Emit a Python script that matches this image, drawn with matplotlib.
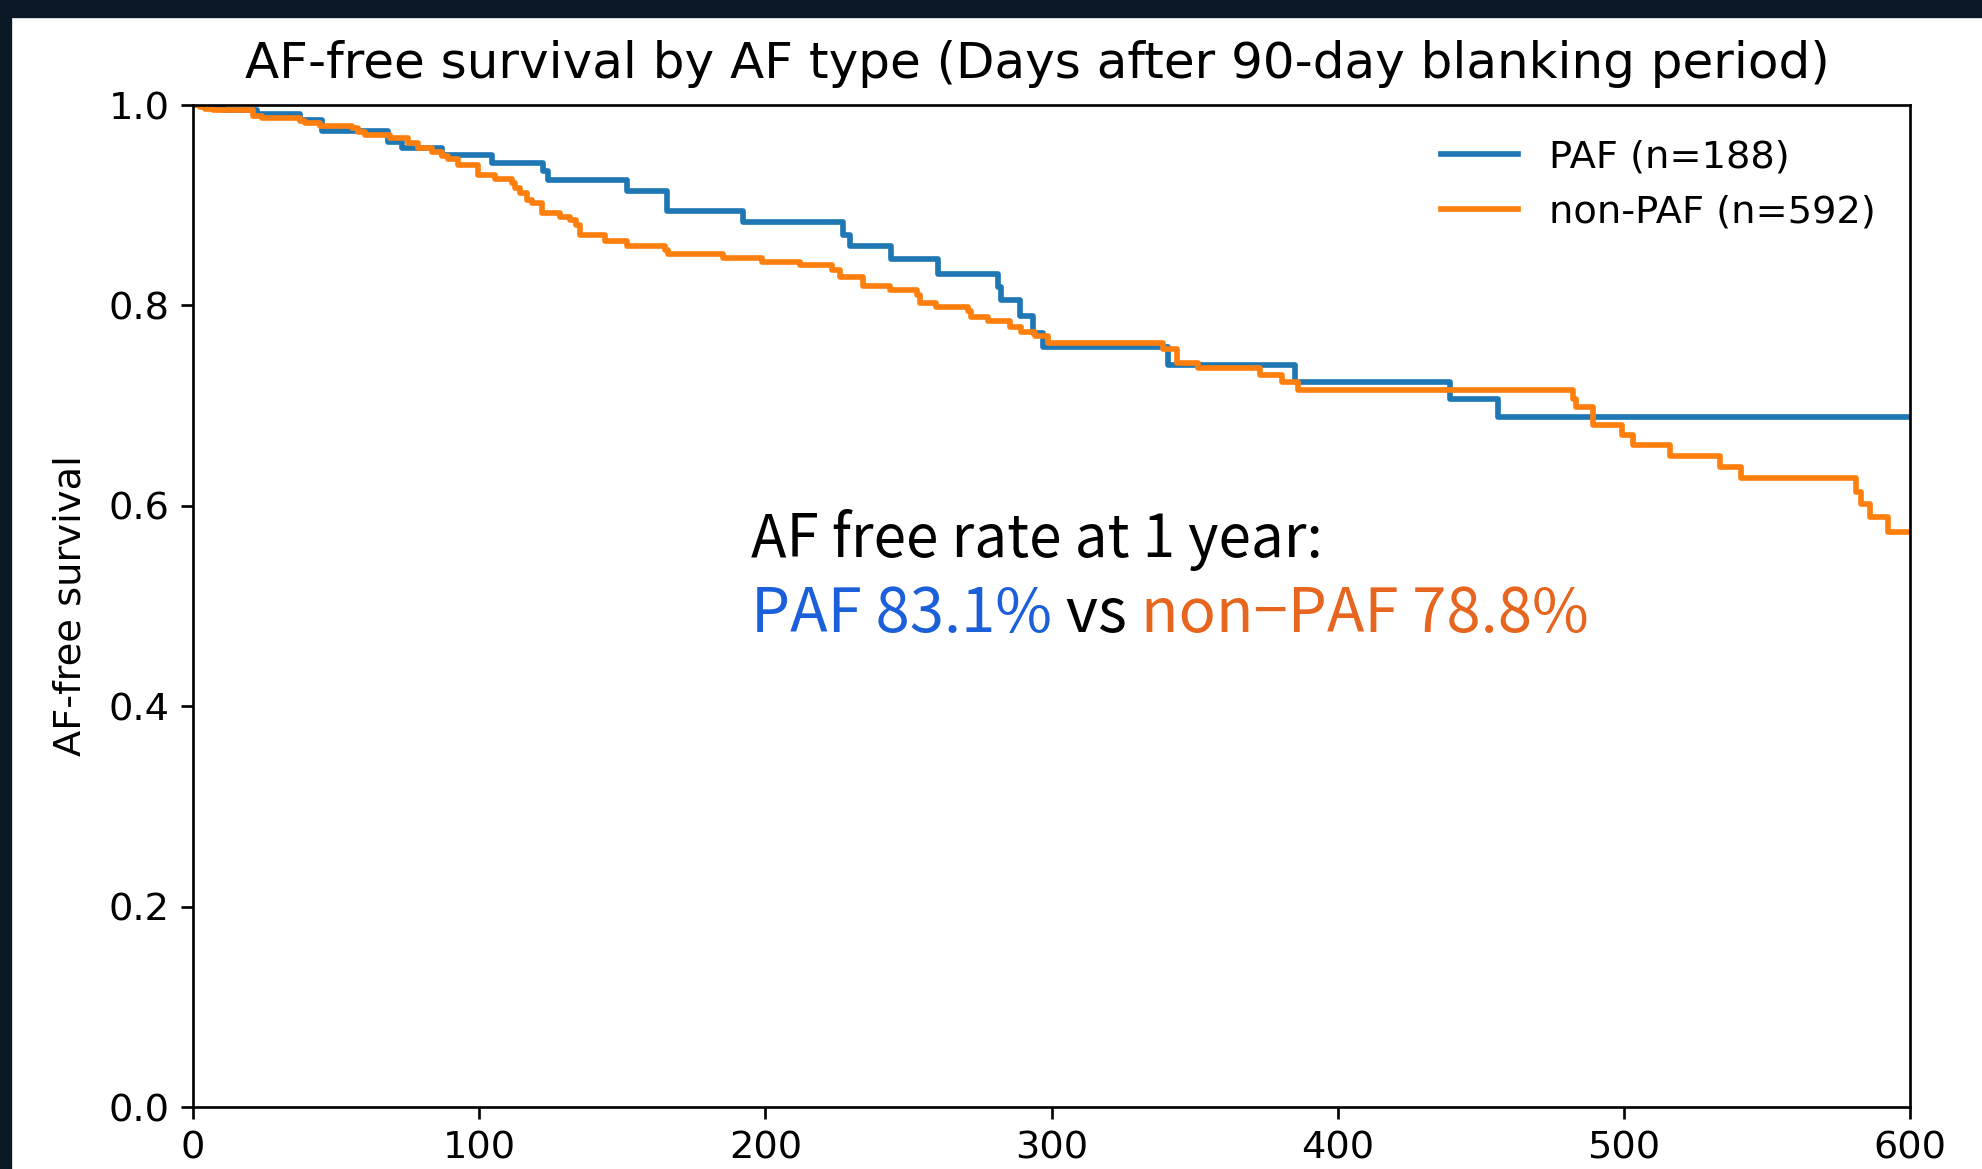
import matplotlib
matplotlib.use("Agg")
import matplotlib.pyplot as plt
from matplotlib.patches import Rectangle
import numpy as np

# Kaplan-Meier steps (days after the 90-day blanking period)
paf_days = [0, 10.5, 22.3, 37.4, 45.0, 68.0, 72.9, 86.9, 104.4, 122.4, 124.2,
            151.5, 165.5, 192.3, 227.3, 229.6, 244.0, 260.4, 281.4, 282.5,
            289.0, 293.6, 297.1, 340.8, 385.0, 439.2, 456.1]
paf_surv = [1.0, 0.995, 0.991, 0.985, 0.974, 0.963, 0.957, 0.950, 0.942, 0.934, 0.925,
            0.914, 0.894, 0.883, 0.870, 0.859, 0.846, 0.831, 0.818, 0.805,
            0.789, 0.772, 0.758, 0.741, 0.724, 0.707, 0.689]

npaf_days = [0, 2.4, 4.2, 7.1, 21.1, 24.0, 37.4, 39.1, 44.4, 55.4, 57.8, 60.1,
             68.8, 75.2, 78.7, 83.4, 86.9, 89.2, 92.7, 99.7, 105.5, 111.3, 112.5,
             114.3, 116.6, 118.3, 121.8, 128.2, 131.7, 134.0, 135.2, 144.0, 151.5,
             164.9, 166.0, 185.3, 198.7, 212.0, 223.2, 226.0, 234.2, 243.5, 252.9,
             254.0, 259.8, 270.9, 272.0, 277.8, 285.5, 289.5, 294.2, 298.8, 339.0,
             343.7, 351.3, 372.8, 380.4, 386.2, 482.3, 483.4, 489.3, 499.2, 503.2,
             516.0, 533.5, 541.1, 581.3, 583.0, 585.9, 592.3]
npaf_surv = [1.0, 0.998, 0.9965, 0.9953, 0.9895, 0.9875, 0.984, 0.9817, 0.9793, 0.977, 0.9734, 0.970,
             0.9674, 0.9625, 0.957, 0.9535, 0.949, 0.946, 0.940, 0.930, 0.926, 0.922, 0.917,
             0.912, 0.905, 0.902, 0.892, 0.888, 0.885, 0.880, 0.870, 0.864, 0.859,
             0.855, 0.851, 0.847, 0.843, 0.840, 0.835, 0.828, 0.819, 0.815, 0.810,
             0.802, 0.798, 0.794, 0.788, 0.784, 0.778, 0.773, 0.769, 0.762, 0.756,
             0.743, 0.738, 0.731, 0.724, 0.716, 0.707, 0.699, 0.681, 0.671, 0.661,
             0.650, 0.639, 0.628, 0.614, 0.602, 0.589, 0.574]

groups = ["PAF (n=188)", "non-PAF (n=592)"]
x_end = 600
one_year = 275  # 365 days minus the blanking period


def surv_at(days, surv, t):
    i = np.searchsorted(days, t, side="right") - 1
    return surv[i]


plt.rcParams["font.size"] = 11.5

fig = plt.figure(figsize=(1982 / 240, 1169 / 240), dpi=240)
fig.patch.set_facecolor("white")

# slide background peeking in at the edges
fig.patches.append(Rectangle((0, 0), 10 / 1982, 1, transform=fig.transFigure,
                             color="#0b1826", zorder=0))
fig.patches.append(Rectangle((0, 1 - 16 / 1169), 1, 16 / 1169, transform=fig.transFigure,
                             color="#0b1826", zorder=0))

ax = fig.add_axes([193 / 1982, 1 - 1107 / 1169, (1910 - 193) / 1982, (1107 - 105) / 1169])

for days, surv, name in [(paf_days, paf_surv, groups[0]), (npaf_days, npaf_surv, groups[1])]:
    ax.step(np.append(days, x_end), np.append(surv, surv[-1]), where="post",
            linewidth=1.7, label=name)

ax.set_xlim(0, x_end)
ax.set_ylim(0, 1.0)
ax.set_xticks(range(0, 601, 100))
ax.set_yticks(np.arange(0, 1.01, 0.2))
ax.set_ylabel("AF-free survival", labelpad=6)
ax.set_title("AF-free survival by AF type (Days after 90-day blanking period)",
             fontsize=15, x=0.492, pad=8)
ax.legend(loc="upper right", frameon=False, handlelength=2.0)

# one-year rates
paf_1y = surv_at(paf_days, paf_surv, one_year)
npaf_1y = surv_at(npaf_days, npaf_surv, one_year)

jp = ["Noto Sans CJK JP", "DejaVu Sans"]
ax.text(195, 0.549, "AF free rate at 1 year:", fontsize=17.5, family=jp, va="baseline")
t1 = ax.text(195, 0.474, f"PAF {paf_1y * 100:.1f}%", fontsize=18.5, family=jp,
             color="#1b5fd9", va="baseline")
t2 = ax.annotate(" vs ", xy=(1, 0), xycoords=t1, fontsize=18.5, family=jp,
                 color="black", va="bottom")
ax.annotate(f"non\u2212PAF {npaf_1y * 100:.1f}%", xy=(1, 0), xycoords=t2, fontsize=18.5,
            family=jp, color="#e6651f", va="bottom")

fig.savefig("out.png", dpi=240)
